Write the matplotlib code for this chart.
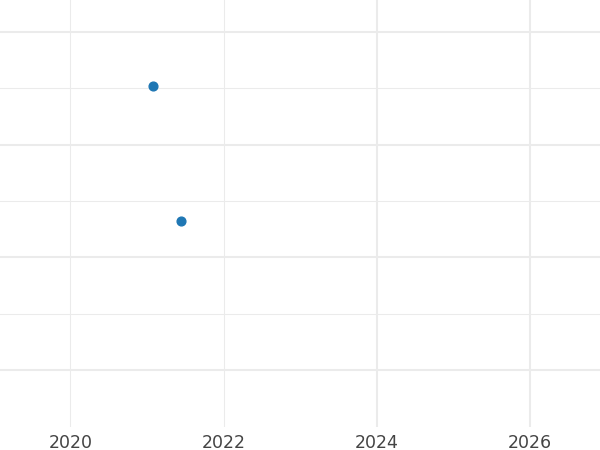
import matplotlib
matplotlib.use("Agg")
import matplotlib.pyplot as plt

# data
years = [2021.08, 2021.44]
values = [25.2, 13.2]

x_ticks = [2020, 2022, 2024, 2026]
y_major = [0, 10, 20, 30]
y_minor = [5, 15, 25]

GRID = "#ebebeb"


def main():
    fig = plt.figure(figsize=(6, 4.5), dpi=100)
    ax = fig.add_axes([0, 1 - 427 / 450, 1, 427 / 450])

    ax.set_xlim(2019.083, 2026.909)
    ax.set_ylim(-5.06, 32.84)

    ax.set_xticks(x_ticks)
    ax.set_xticklabels([str(t) for t in x_ticks])
    ax.set_yticks(y_major)
    ax.set_yticks(y_minor, minor=True)
    ax.set_yticklabels([])

    ax.grid(True, which="major", color=GRID, linewidth=1.45)
    ax.grid(True, which="minor", axis="y", color=GRID, linewidth=0.75)
    # the first two vertical lines are drawn thinner in the reference
    for line in ax.get_xgridlines()[:2]:
        line.set_linewidth(0.75)

    ax.tick_params(axis="both", which="both", length=0)
    ax.tick_params(axis="x", pad=5, labelsize=12.5, labelcolor="#444444")
    for s in ax.spines.values():
        s.set_visible(False)
    ax.set_axisbelow(True)

    ax.plot(years, values, "o", color="#1f77b4", markersize=6.3, linestyle="none")

    fig.savefig("out.png", dpi=100)
    plt.close(fig)


if __name__ == "__main__":
    main()
